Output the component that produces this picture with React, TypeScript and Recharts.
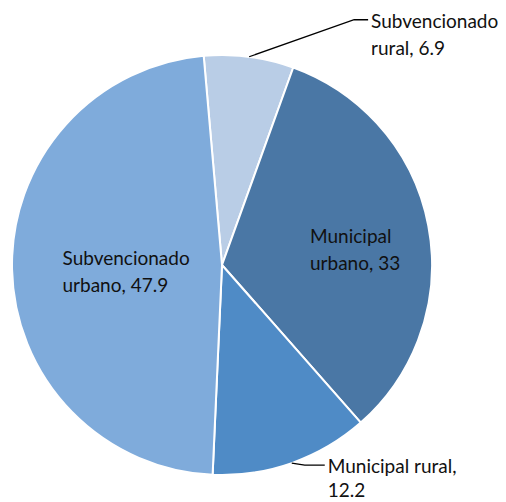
import React from "react";
import { PieChart, Pie, Cell } from "recharts";

const names = ["Subvencionado rural", "Municipal urbano", "Municipal rural", "Subvencionado urbano"];
const values = [6.9, 33, 12.2, 47.9];
const colors = ["#b9cde6", "#4a77a5", "#4f8bc6", "#7fabdb"];
const labelLines1 = ["Subvencionado", "Municipal", "Municipal rural,", "Subvencionado"];
const labelLines2 = ["rural, 6.9", "urbano, 33", "12.2", "urbano, 47.9"];

// label layout (not data)
const layout = [
  { outside: true, ex: 105, ey: -37, hx: 14, lh: 27 },
  { outside: false, k: 0.64, shift: 9, half: 44 },
  { outside: true, ex: 13, ey: 2, hx: 20, lh: 24 },
  { outside: false, k: 0.45, shift: 3, half: 65 },
];

const data = names.map((n, i) => ({ name: n, value: values[i] }));
const RAD = Math.PI / 180;
const FONT = "Lato, 'Liberation Sans', sans-serif";
const FS = 19;
const LH = 27;

const renderLabel = (p: any) => {
  const { cx, cy, midAngle, outerRadius, index } = p;
  const L: any = layout[index];
  const c = Math.cos(-midAngle * RAD);
  const s = Math.sin(-midAngle * RAD);
  if (L.outside) {
    const x0 = cx + outerRadius * c;
    const y0 = cy + outerRadius * s;
    const x1 = x0 + L.ex;
    const y1 = y0 + L.ey;
    const x2 = x1 + L.hx;
    return (
      <g key={"l" + index}>
        <polyline points={`${x0},${y0} ${x1},${y1} ${x2},${y1}`} fill="none" stroke="#000" strokeWidth={1.3} />
        <text x={x2 + 3} y={y1} fontFamily={FONT} fontSize={FS} fill="#111" dominantBaseline="central">
          <tspan x={x2 + 3} dy={0}>{labelLines1[index]}</tspan>
          <tspan x={x2 + 3} dy={L.lh}>{labelLines2[index]}</tspan>
        </text>
      </g>
    );
  }
  const x = cx + outerRadius * L.k * c;
  const y = cy + outerRadius * L.k * s + L.shift;
  return (
    <text key={"l" + index} x={x} y={y} fontFamily={FONT} fontSize={FS} fill="#111" dominantBaseline="central">
      <tspan x={x - L.half} dy={-LH / 2}>{labelLines1[index]}</tspan>
      <tspan x={x - L.half} dy={LH}>{labelLines2[index]}</tspan>
    </text>
  );
};

export default function App() {
  return (
    <PieChart width={506} height={502} margin={{ top: 0, right: 0, bottom: 0, left: 0 }} style={{ background: "#fff" }}>
      <Pie
        data={data}
        dataKey="value"
        nameKey="name"
        cx={214}
        cy={257}
        outerRadius={210}
        startAngle={95}
        endAngle={-265}
        stroke="#ffffff"
        strokeWidth={2}
        label={renderLabel}
        labelLine={false}
        isAnimationActive={false}
      >
        {data.map((d, i) => (
          <Cell key={d.name} fill={colors[i]} />
        ))}
      </Pie>
    </PieChart>
  );
}
